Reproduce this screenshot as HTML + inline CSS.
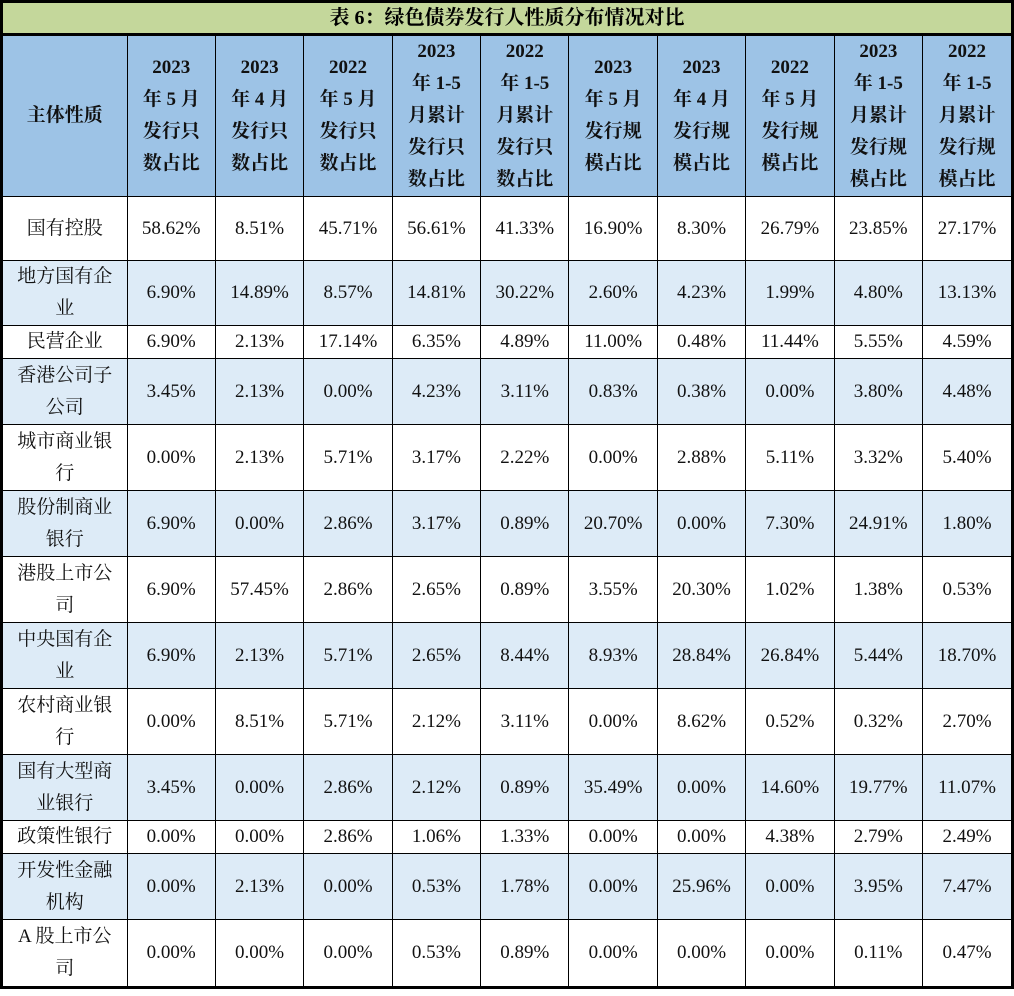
<!DOCTYPE html>
<html><head><meta charset="utf-8"><style>
body{margin:0;background:#fff;width:1014px;height:996px;overflow:hidden}
#wrap{position:absolute;left:0;top:0;width:1014px;height:989px;border:3px solid #000;box-sizing:border-box;background:#fff}
#title{height:30px;background:#c4d79b;border-bottom:3px solid #000;text-align:center;font:bold 20px/30px "Liberation Serif","Noto Serif CJK SC",serif;color:#000}
table{border-collapse:collapse;table-layout:fixed;width:1008px;font-family:"Liberation Serif","Noto Serif CJK SC",serif;font-size:19px;color:#111}
td,th{border:1px solid #000;text-align:center;padding:0;line-height:32px;overflow:hidden}
th{background:#9dc3e6;font-weight:bold;height:160px}
tr.b td{background:#ddebf7}
td:first-child{padding:0 6px}
tr:first-child th{border-top:none}
td:first-child,th:first-child{border-left:none}
td:last-child,th:last-child{border-right:none}
tr:last-child td{border-bottom:none}
</style></head><body>
<div id="wrap">
<div id="title">表 6：绿色债券发行人性质分布情况对比</div>
<table>
<colgroup><col style="width:124px"><col><col><col><col><col><col><col><col><col><col></colgroup>
<tr><th>主体性质</th><th>2023<br>年 5 月<br>发行只<br>数占比</th><th>2023<br>年 4 月<br>发行只<br>数占比</th><th>2022<br>年 5 月<br>发行只<br>数占比</th><th>2023<br>年 1-5<br>月累计<br>发行只<br>数占比</th><th>2022<br>年 1-5<br>月累计<br>发行只<br>数占比</th><th>2023<br>年 5 月<br>发行规<br>模占比</th><th>2023<br>年 4 月<br>发行规<br>模占比</th><th>2022<br>年 5 月<br>发行规<br>模占比</th><th>2023<br>年 1-5<br>月累计<br>发行规<br>模占比</th><th>2022<br>年 1-5<br>月累计<br>发行规<br>模占比</th></tr>
<tr style="height:64px"><td>国有控股</td><td>58.62%</td><td>8.51%</td><td>45.71%</td><td>56.61%</td><td>41.33%</td><td>16.90%</td><td>8.30%</td><td>26.79%</td><td>23.85%</td><td>27.17%</td></tr>
<tr class="b" style="height:64px"><td>地方国有企业</td><td>6.90%</td><td>14.89%</td><td>8.57%</td><td>14.81%</td><td>30.22%</td><td>2.60%</td><td>4.23%</td><td>1.99%</td><td>4.80%</td><td>13.13%</td></tr>
<tr style="height:33px"><td>民营企业</td><td>6.90%</td><td>2.13%</td><td>17.14%</td><td>6.35%</td><td>4.89%</td><td>11.00%</td><td>0.48%</td><td>11.44%</td><td>5.55%</td><td>4.59%</td></tr>
<tr class="b" style="height:66px"><td>香港公司子公司</td><td>3.45%</td><td>2.13%</td><td>0.00%</td><td>4.23%</td><td>3.11%</td><td>0.83%</td><td>0.38%</td><td>0.00%</td><td>3.80%</td><td>4.48%</td></tr>
<tr style="height:66px"><td>城市商业银行</td><td>0.00%</td><td>2.13%</td><td>5.71%</td><td>3.17%</td><td>2.22%</td><td>0.00%</td><td>2.88%</td><td>5.11%</td><td>3.32%</td><td>5.40%</td></tr>
<tr class="b" style="height:66px"><td>股份制商业银行</td><td>6.90%</td><td>0.00%</td><td>2.86%</td><td>3.17%</td><td>0.89%</td><td>20.70%</td><td>0.00%</td><td>7.30%</td><td>24.91%</td><td>1.80%</td></tr>
<tr style="height:66px"><td>港股上市公司</td><td>6.90%</td><td>57.45%</td><td>2.86%</td><td>2.65%</td><td>0.89%</td><td>3.55%</td><td>20.30%</td><td>1.02%</td><td>1.38%</td><td>0.53%</td></tr>
<tr class="b" style="height:66px"><td>中央国有企业</td><td>6.90%</td><td>2.13%</td><td>5.71%</td><td>2.65%</td><td>8.44%</td><td>8.93%</td><td>28.84%</td><td>26.84%</td><td>5.44%</td><td>18.70%</td></tr>
<tr style="height:66px"><td>农村商业银行</td><td>0.00%</td><td>8.51%</td><td>5.71%</td><td>2.12%</td><td>3.11%</td><td>0.00%</td><td>8.62%</td><td>0.52%</td><td>0.32%</td><td>2.70%</td></tr>
<tr class="b" style="height:66px"><td>国有大型商业银行</td><td>3.45%</td><td>0.00%</td><td>2.86%</td><td>2.12%</td><td>0.89%</td><td>35.49%</td><td>0.00%</td><td>14.60%</td><td>19.77%</td><td>11.07%</td></tr>
<tr style="height:33px"><td>政策性银行</td><td>0.00%</td><td>0.00%</td><td>2.86%</td><td>1.06%</td><td>1.33%</td><td>0.00%</td><td>0.00%</td><td>4.38%</td><td>2.79%</td><td>2.49%</td></tr>
<tr class="b" style="height:66px"><td>开发性金融机构</td><td>0.00%</td><td>2.13%</td><td>0.00%</td><td>0.53%</td><td>1.78%</td><td>0.00%</td><td>25.96%</td><td>0.00%</td><td>3.95%</td><td>7.47%</td></tr>
<tr style="height:66px"><td>A 股上市公司</td><td>0.00%</td><td>0.00%</td><td>0.00%</td><td>0.53%</td><td>0.89%</td><td>0.00%</td><td>0.00%</td><td>0.00%</td><td>0.11%</td><td>0.47%</td></tr>
</table>
</div>
</body></html>
